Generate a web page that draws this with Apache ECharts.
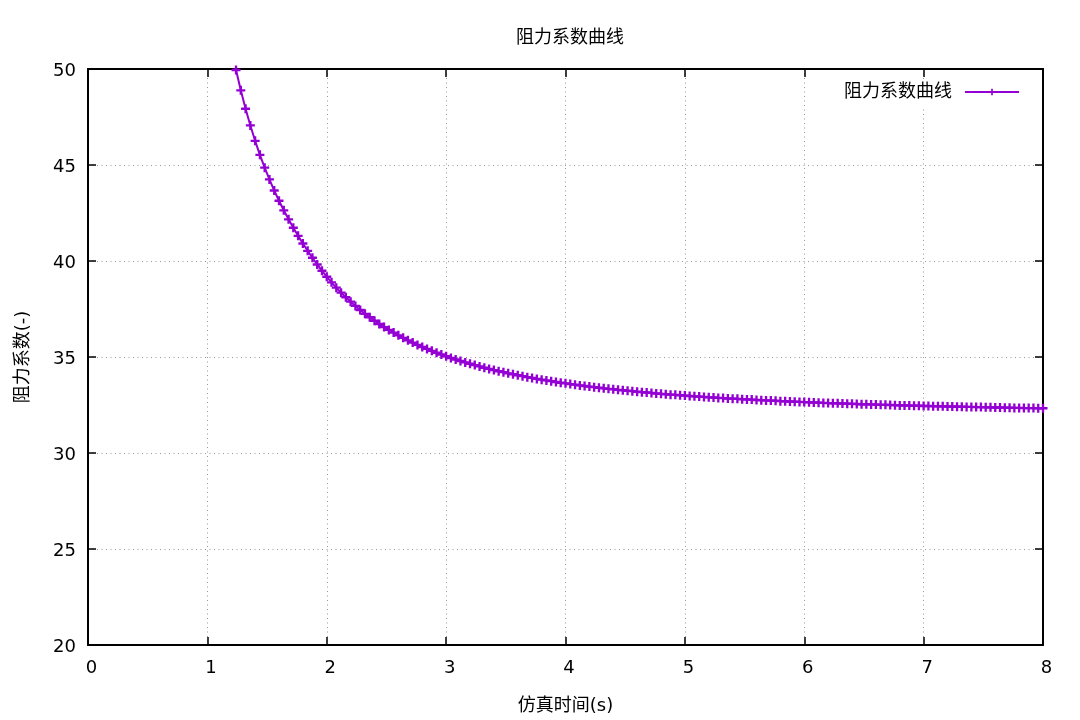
<!DOCTYPE html>
<html>
<head>
<meta charset="utf-8">
<script src="https://cdn.jsdelivr.net/npm/echarts@6/dist/echarts.min.js"></script>
<style>html,body{margin:0;padding:0;background:#fff}#c{width:1080px;height:720px}</style>
</head>
<body>
<div id="c"></div>
<script>
var titleText = '阻力系数曲线';
var seriesName = '阻力系数曲线';
var xName = '仿真时间(s)';
var yName = '阻力系数(-)';
var xTicks = [0, 8, 1];
var yTicks = [20, 50, 5];

var times = [
1.20,1.24,1.28,1.32,1.36,1.40,1.44,1.48,1.52,1.56,1.60,1.64,1.68,1.72,1.76,1.80,1.84,1.88,1.92,1.96,
2.00,2.04,2.08,2.12,2.16,2.20,2.24,2.28,2.32,2.36,2.40,2.44,2.48,2.52,2.56,2.60,2.64,2.68,2.72,2.76,
2.80,2.84,2.88,2.92,2.96,3.00,3.04,3.08,3.12,3.16,3.20,3.24,3.28,3.32,3.36,3.40,3.44,3.48,3.52,3.56,
3.60,3.64,3.68,3.72,3.76,3.80,3.84,3.88,3.92,3.96,4.00,4.04,4.08,4.12,4.16,4.20,4.24,4.28,4.32,4.36,
4.40,4.44,4.48,4.52,4.56,4.60,4.64,4.68,4.72,4.76,4.80,4.84,4.88,4.92,4.96,5.00,5.04,5.08,5.12,5.16,
5.20,5.24,5.28,5.32,5.36,5.40,5.44,5.48,5.52,5.56,5.60,5.64,5.68,5.72,5.76,5.80,5.84,5.88,5.92,5.96,
6.00,6.04,6.08,6.12,6.16,6.20,6.24,6.28,6.32,6.36,6.40,6.44,6.48,6.52,6.56,6.60,6.64,6.68,6.72,6.76,
6.80,6.84,6.88,6.92,6.96,7.00,7.04,7.08,7.12,7.16,7.20,7.24,7.28,7.32,7.36,7.40,7.44,7.48,7.52,7.56,
7.60,7.64,7.68,7.72,7.76,7.80,7.84,7.88,7.92,7.96,8.00
];

var drag = [
51.12,49.95,48.89,47.93,47.06,46.26,45.53,44.86,44.25,43.67,43.14,42.64,42.17,41.73,41.31,40.91,40.53,40.17,39.82,39.49,
39.18,38.89,38.61,38.35,38.11,37.88,37.66,37.45,37.25,37.07,36.89,36.72,36.56,36.41,36.27,36.13,36.00,35.87,35.75,35.63,
35.52,35.42,35.32,35.22,35.13,35.04,34.95,34.87,34.79,34.72,34.65,34.58,34.51,34.44,34.38,34.32,34.26,34.21,34.15,34.10,
34.05,34.00,33.95,33.91,33.86,33.82,33.78,33.74,33.70,33.66,33.63,33.59,33.56,33.52,33.49,33.46,33.43,33.40,33.37,33.34,
33.32,33.29,33.27,33.24,33.22,33.19,33.17,33.15,33.13,33.10,33.08,33.06,33.04,33.03,33.01,32.99,32.97,32.95,32.94,32.92,
32.90,32.89,32.87,32.86,32.84,32.83,32.82,32.80,32.79,32.78,32.76,32.75,32.74,32.73,32.72,32.70,32.69,32.68,32.67,32.66,
32.65,32.64,32.63,32.62,32.61,32.60,32.59,32.59,32.58,32.57,32.56,32.55,32.54,32.54,32.53,32.52,32.51,32.51,32.50,32.49,
32.48,32.48,32.47,32.46,32.46,32.45,32.45,32.44,32.43,32.43,32.42,32.42,32.41,32.41,32.40,32.40,32.39,32.39,32.38,32.38,
32.37,32.37,32.36,32.36,32.35,32.35,32.34,32.34,32.34,32.33,32.33
];

var data = times.map(function (t, i) { return [t, drag[i]]; });

var FONT = '"DejaVu Sans", "Noto Sans CJK SC", sans-serif';
var purple = '#9400D3';
var plus = 'path://M3.7,0H6.3V3.7H10V6.3H6.3V10H3.7V6.3H0V3.7H3.7Z';

function axisCommon(show) {
  return {
    axisLine: { show: true, onZero: false, lineStyle: { color: '#000', width: 2 } },
    axisTick: { show: true, inside: true, length: 8, lineStyle: { color: '#000', width: 1.5 } },
    axisLabel: { show: show, color: '#000', fontSize: 18, fontFamily: FONT },
    splitLine: { show: false }
  };
}

var xMain = Object.assign(axisCommon(true), {
  type: 'value', position: 'bottom', min: xTicks[0], max: xTicks[1], interval: xTicks[2],
  name: xName, nameLocation: 'middle', nameGap: 52,
  nameTextStyle: { color: '#000', fontSize: 18, fontFamily: FONT },
  splitLine: { show: true, lineStyle: { color: '#999', width: 1, type: [1, 3.5] } }
});
xMain.axisLabel.margin = 14;
xMain.axisLabel.padding = [0, 0, 0, 7];
var xTop = Object.assign(axisCommon(false), {
  type: 'value', position: 'top', min: xTicks[0], max: xTicks[1], interval: xTicks[2]
});
var yMain = Object.assign(axisCommon(true), {
  type: 'value', position: 'left', min: yTicks[0], max: yTicks[1], interval: yTicks[2],
  name: yName, nameLocation: 'middle', nameGap: 56,
  nameTextStyle: { color: '#000', fontSize: 18, fontFamily: FONT },
  splitLine: { show: true, lineStyle: { color: '#999', width: 1, type: [1, 3.5] } }
});
yMain.axisLabel.margin = 12;
yMain.axisLabel.verticalAlign = 'top';
yMain.axisLabel.lineHeight = 4;
var yRight = Object.assign(axisCommon(false), {
  type: 'value', position: 'right', min: yTicks[0], max: yTicks[1], interval: yTicks[2]
});

var chart = echarts.init(document.getElementById('c'), null, { renderer: 'canvas' });
chart.setOption({
  animation: false,
  backgroundColor: '#fff',
  title: {
    text: titleText, left: 511, top: 24,
    textStyle: { color: '#000', fontSize: 18, fontWeight: 'normal', fontFamily: FONT }
  },
  legend: {
    data: [{ name: seriesName }],
    right: 48, top: 81,
    align: 'right',
    backgroundColor: '#fff',
    padding: [2, 12, 6, 38],
    itemWidth: 54, itemHeight: 8,
    textStyle: { color: '#000', fontSize: 18, fontFamily: FONT, padding: [0, 8, 0, 0] },
    selectedMode: false
  },
  grid: { left: 88, right: 37, top: 69, bottom: 75, containLabel: false },
  xAxis: [xMain, xTop],
  yAxis: [yMain, yRight],
  series: [{
    name: seriesName,
    type: 'line',
    xAxisIndex: 0, yAxisIndex: 0,
    data: data,
    symbol: plus,
    symbolSize: 9,
    showAllSymbol: true,
    clip: true,
    itemStyle: { color: purple },
    lineStyle: { color: purple, width: 2 },
    emphasis: { disabled: true }
  }]
});
</script>
</body>
</html>
